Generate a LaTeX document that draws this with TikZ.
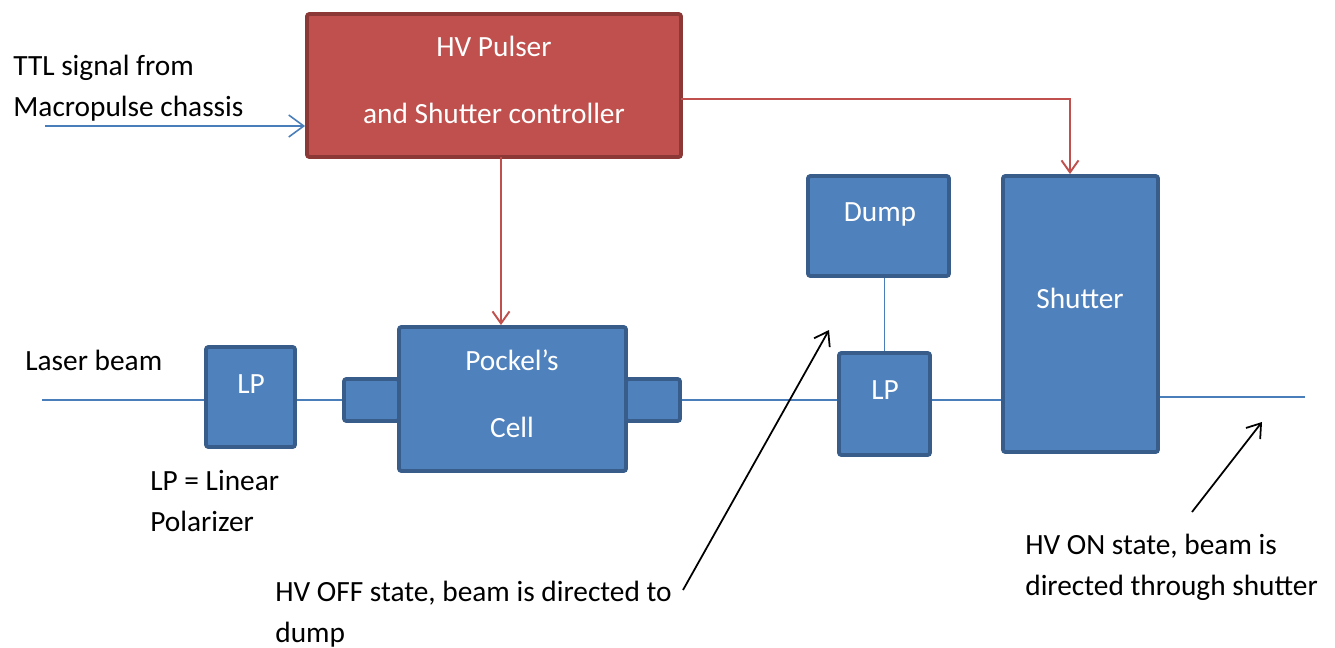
\documentclass[tikz,border=0pt]{standalone}
\usepackage{fontspec}
\setmainfont{Carlito}
\usetikzlibrary{arrows.meta}
\definecolor{boxblue}{HTML}{4F81BD}
\definecolor{boxedge}{HTML}{385D8A}
\definecolor{ctlred}{HTML}{C0504D}
\definecolor{ctledge}{HTML}{8C3836}
\definecolor{beamblue}{HTML}{4A7EBB}

\begin{document}
\begin{tikzpicture}[x=0.2mm,y=-0.2mm,
  every node/.style={font=\fontsize{16.7}{23.3}\selectfont},
  blk/.style={draw=boxedge,fill=boxblue,line width=2.2pt,rounded corners=0.5mm,inner sep=0pt},
  ctl/.style={draw=ctledge,fill=ctlred,line width=2.2pt,rounded corners=0.5mm,inner sep=0pt},
  intxt/.style={text=white,anchor=base,inner sep=0pt,align=center},
  outtxt/.style={anchor=base west,inner sep=0pt,align=left},
  beam/.style={beamblue,line width=0.9pt},
  sig/.style={ctlred,line width=1.1pt,-{Straight Barb[length=2.4mm,width=3.4mm]}},
  note/.style={black,line width=1pt,-{Straight Barb[length=2.6mm,width=3.6mm]}}]
\useasboundingbox (0,0) rectangle (1335,647);

% Controller box
\node[ctl,minimum width=74.8mm,minimum height=28.6mm] (pulser) at (494,85.5) {};
\node[intxt,font=\fontsize{16.7}{38}\selectfont] (pulserTxt) at (494,123) {HV Pulser\\and Shutter controller};

% Optical bench
\node[blk,minimum width=17.8mm,minimum height=20mm] (lpA) at (250.5,397) {};
\node[blk,minimum width=11mm,minimum height=8.4mm] (portL) at (371.5,400) {};
\node[blk,minimum width=10.8mm,minimum height=8.4mm] (portR) at (653,400) {};
\node[blk,minimum width=45.4mm,minimum height=28.8mm] (cell) at (512.5,399) {};
\node[blk,minimum width=18.2mm,minimum height=20.4mm] (lpB) at (884.5,404) {};
\node[blk,minimum width=28.2mm,minimum height=20mm] (dump) at (878.5,226) {};
\node[blk,minimum width=31mm,minimum height=55.2mm] (shutter) at (1080.5,314) {};

\node[intxt] (lpATxt) at (251,393) {LP};
\node[intxt,font=\fontsize{16.7}{38}\selectfont] (cellTxt) at (512,437) {Pockel’s\\Cell};
\node[intxt] (lpBTxt) at (885,399) {LP};
\node[intxt] (dumpTxt) at (880,221) {Dump};
\node[intxt] (shutterTxt) at (1080,308) {Shutter};

% Beam path
\coordinate (beamIn) at (42,400);
\coordinate (beamOut) at (1305,397);
\draw[beam] (beamIn) -- (beamIn -| lpA.west);
\draw[beam] (lpA.east |- beamIn) -- (portL.west |- beamIn);
\draw[beam] (portR.east |- beamIn) -- (lpB.west |- beamIn);
\draw[beam] (lpB.east |- beamIn) -- (shutter.west |- beamIn);
\draw[beam] (shutter.east |- beamOut) -- (beamOut);
\draw[beam] (dump.south -| lpB.north) -- (lpB.north);

% Trigger and HV lines
\coordinate (ttlIn) at (45,126);
\draw[beam,-{Straight Barb[length=3mm,width=4.4mm]}] (ttlIn) -- (ttlIn -| pulser.west);
\coordinate (ctlDown) at (501,157);
\draw[sig] (ctlDown) -- (ctlDown |- cell.north);
\coordinate (ctlRight) at (681,99);
\draw[sig] (ctlRight) -| ([xshift=-2.1mm]shutter.north);

% Labels
\node[outtxt] (ttlTxt) at (13,116) {TTL signal from\\Macropulse chassis};
\node[outtxt] (laserTxt) at (25,370) {Laser beam};
\node[outtxt] (lpTxt) at (150,531) {LP = Linear\\Polarizer};
\node[outtxt] (offTxt) at (275,642) {HV OFF state, beam is directed to\\dump};
\node[outtxt] (onTxt) at (1025,595) {HV ON state, beam is\\directed through shutter};

% State arrows
\coordinate (offTail) at (683,590);
\coordinate (offHead) at (829,330);
\coordinate (onTail) at (1192,512);
\coordinate (onHead) at (1262,422);
\draw[note] (offTail) -- (offHead);
\draw[note] (onTail) -- (onHead);
\end{tikzpicture}
\end{document}
